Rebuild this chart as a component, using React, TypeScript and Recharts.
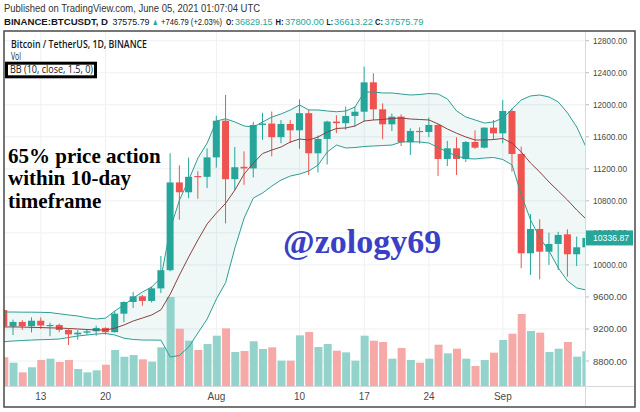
import React from 'react';
import { ComposedChart, Bar, Line, Area, XAxis, YAxis, CartesianGrid, Cell } from 'recharts';

const dates = [
  '2020-07-09','2020-07-10','2020-07-11','2020-07-12','2020-07-13','2020-07-14','2020-07-15','2020-07-16',
  '2020-07-17','2020-07-18','2020-07-19','2020-07-20','2020-07-21','2020-07-22','2020-07-23','2020-07-24',
  '2020-07-25','2020-07-26','2020-07-27','2020-07-28','2020-07-29','2020-07-30','2020-07-31','2020-08-01',
  '2020-08-02','2020-08-03','2020-08-04','2020-08-05','2020-08-06','2020-08-07','2020-08-08','2020-08-09',
  '2020-08-10','2020-08-11','2020-08-12','2020-08-13','2020-08-14','2020-08-15','2020-08-16','2020-08-17',
  '2020-08-18','2020-08-19','2020-08-20','2020-08-21','2020-08-22','2020-08-23','2020-08-24','2020-08-25',
  '2020-08-26','2020-08-27','2020-08-28','2020-08-29','2020-08-30','2020-08-31','2020-09-01','2020-09-02',
  '2020-09-03','2020-09-04','2020-09-05','2020-09-06','2020-09-07','2020-09-08','2020-09-09','2020-09-10',
];

const open = [
  9436, 9232, 9288, 9234, 9303, 9243, 9250, 9188, 9133, 9154, 9171, 9213, 9160, 9391, 9537, 9608,
  9550, 9707, 9934, 11030, 10907, 11110, 11100, 11343, 11801, 11071, 11225, 11205, 11748, 11765, 11595, 11760,
  11681, 11895, 11394, 11573, 11790, 11770, 11860, 11913, 12280, 11943, 11756, 11851, 11531, 11673, 11660, 11748,
  11323, 11456, 11323, 11535, 11464, 11714, 11643, 11922, 11385, 10145, 10449, 10165, 10262, 10382, 10133, 10220,
];
const high = [
  9450, 9317, 9310, 9345, 9343, 9279, 9268, 9203, 9186, 9200, 9241, 9221, 9424, 9545, 9664, 9625,
  9730, 10111, 11394, 11244, 11340, 11170, 11455, 11862, 12123, 11473, 11418, 11786, 11900, 11915, 11808, 11808,
  12067, 11940, 11617, 11800, 11870, 11976, 11976, 12475, 12393, 12018, 11890, 11880, 11706, 11718, 11840, 11756,
  11548, 11594, 11547, 11680, 11718, 11809, 12060, 11955, 11477, 10636, 10570, 10402, 10414, 10445, 10354, 10500,
];
const low = [
  9160, 9125, 9189, 9157, 9200, 9110, 9160, 9000, 9066, 9128, 9115, 9127, 9156, 9283, 9463, 9490,
  9531, 9649, 9920, 10565, 10833, 10827, 10960, 11215, 10518, 10936, 11000, 11093, 11562, 11356, 11520, 11522,
  11450, 11123, 11154, 11254, 11645, 11690, 11726, 11789, 11809, 11569, 11672, 11485, 11373, 11514, 11595, 11110,
  11235, 11123, 11286, 11450, 11455, 11560, 11519, 11164, 9958, 9875, 9820, 10000, 9937, 9853, 9987, 10200,
];
const close = [
  9232, 9288, 9234, 9303, 9243, 9250, 9188, 9133, 9154, 9171, 9213, 9160, 9391, 9537, 9608, 9550,
  9707, 9934, 11030, 10907, 11100, 11100, 11343, 11801, 11071, 11220, 11205, 11748, 11765, 11595, 11760, 11681,
  11895, 11394, 11573, 11790, 11770, 11860, 11913, 12280, 11943, 11756, 11851, 11531, 11673, 11660, 11748, 11323,
  11456, 11323, 11535, 11464, 11714, 11643, 11922, 11385, 10145, 10449, 10165, 10262, 10374, 10133, 10220, 10336.87,
];
const volume = [
  42140, 34300, 20090, 27440, 38220, 40180, 35280, 38220, 24990, 20090, 23030, 31360, 52920, 43120, 45570, 39200,
  35770, 56840, 130830, 84280, 66640, 52920, 61740, 73990, 84770, 49980, 51450, 65660, 54390, 56840, 37240, 37240,
  74480, 79380, 57330, 61740, 51940, 49490, 37240, 73990, 66640, 64680, 40180, 55860, 38220, 34300, 40180, 60760,
  48020, 54880, 40180, 29400, 38220, 49000, 67620, 76930, 105840, 80850, 78400, 49980, 54880, 64680, 43120, 50960,
];
const bbUpper = [
  9412, 9412, 9410, 9410, 9408, 9405, 9390, 9375, 9362, 9340, 9325, 9335, 9425, 9500, 9587, 9662,
  9725, 9840, 10450, 10810, 11060, 11335, 11522, 11797, 11825, 11785, 11735, 11722, 11785, 11847, 11885, 11935,
  11997, 11935, 11935, 11922, 11913, 11922, 11972, 12159, 12159, 12147, 12147, 12134, 12122, 12128, 12140, 12134,
  12072, 11922, 11847, 11810, 11772, 11785, 11835, 11947, 12060, 12110, 12122, 12097, 12035, 11897, 11722, 11472,
];
const bbBasis = [
  9225, 9225, 9224, 9220, 9218, 9214, 9212, 9206, 9200, 9193, 9188, 9187, 9210, 9250, 9300, 9337,
  9375, 9440, 9635, 9874, 10100, 10312, 10512, 10648, 10770, 10935, 11135, 11272, 11391, 11435, 11473, 11535,
  11572, 11560, 11597, 11660, 11704, 11710, 11735, 11797, 11810, 11816, 11829, 11835, 11822, 11816, 11810, 11760,
  11697, 11644, 11597, 11560, 11560, 11566, 11579, 11519, 11410, 11272, 11160, 11035, 10923, 10810, 10685, 10573,
];
const bbLower = [
  9041, 9050, 9056, 9062, 9066, 9069, 9075, 9094, 9112, 9125, 9137, 9144, 9125, 9085, 9069, 9062,
  9062, 9060, 8850, 8869, 8975, 9150, 9325, 9575, 9780, 10212, 10585, 10836, 10898, 10985, 11060, 11110,
  11135, 11173, 11247, 11410, 11497, 11460, 11466, 11479, 11485, 11491, 11497, 11535, 11539, 11535, 11522, 11466,
  11410, 11360, 11329, 11323, 11335, 11341, 11316, 11248, 10874, 10561, 10336, 10174, 9962, 9799, 9712, 9687,
];

const priceTicks = [8800, 9200, 9600, 10000, 10400, 10800, 11200, 11600, 12000, 12400, 12800];
const lastPrice = 10336.87;
const dateTickDates = ['2020-07-13', '2020-07-20', '2020-08-01', '2020-08-10', '2020-08-17', '2020-08-24', '2020-09-01'];
const dateTickLabels = ['13', '20', 'Aug', '10', '17', '24', 'Sep'];

const UP = '#26a69a';
const DOWN = '#ef5350';
const VOL_UP = '#93d3cc';
const VOL_DOWN = '#f7a9a7';
const AXIS_FONT = "'Liberation Sans', Arial, sans-serif";

const rows = dates.map((d, i) => ({
  i, date: d, o: open[i], h: high[i], l: low[i], c: close[i], vol: volume[i],
  bbU: bbUpper[i], bbM: bbBasis[i], bbL: bbLower[i],
}));
const dateTicks = dateTickDates.map((d) => dates.indexOf(d));
const xDomain: [number, number] = [0.01, 62.89];

// header line pieces: text, x start, width, colour, bold, font size
const headerPieces: [string, number, number, string, boolean, number][] = [
  ['BINANCE:BTCUSDT, D', 4, 104, '#131722', true, 9.5],
  ['37575.79', 112.5, 37, '#131722', false, 9.5],
  ['▲', 152, 6.5, UP, false, 9.5],
  ['+746.79 (+2.03%)', 161, 61, '#131722', false, 9],
  ['O:', 226, 7.5, '#131722', true, 9.5],
  ['36829.15', 235, 37.5, UP, false, 9.5],
  ['H:', 275.5, 8, '#131722', true, 9.5],
  ['37800.00', 285, 39, UP, false, 9.5],
  ['L:', 326.5, 6.5, '#131722', true, 9.5],
  ['36613.22', 334, 39, UP, false, 9.5],
  ['C:', 375, 8, '#131722', true, 9.5],
  ['37575.79', 384.5, 39, UP, false, 9.5],
];

const Candle = (props: any) => {
  const { x, y, width, height, payload } = props;
  if (!payload) return null;
  const top = Math.min(y, y + height);
  const h = Math.abs(height);
  const { o, c, h: hi, l: lo } = payload;
  const py = (v: number) => top + ((hi - v) / (hi - lo)) * h;
  const color = c >= o ? UP : DOWN;
  const cx = x + width / 2;
  const bTop = py(Math.max(o, c));
  const bBot = py(Math.min(o, c));
  return (
    <g>
      <line x1={cx} x2={cx} y1={top} y2={top + h} stroke={color} strokeWidth={1} />
      <rect x={x} y={bTop} width={width} height={Math.max(1.2, bBot - bTop)} fill={color} />
    </g>
  );
};

const PriceTick = (props: any) => {
  const { x, y, payload } = props;
  const v = payload.value;
  if (Math.abs(v - lastPrice) < 0.001) {
    return (
      <g>
        <rect x={x - 7} y={y - 7.5} width={47} height={15} fill={UP} />
        <text x={x} y={y + 3.5} fill="#ffffff" fontSize={9.5} fontFamily={AXIS_FONT} textLength={36} lengthAdjust="spacingAndGlyphs">
          {v.toFixed(2)}
        </text>
      </g>
    );
  }
  return (
    <text x={x} y={y + 3.5} fill="#4a4a4a" fontSize={9.5} fontFamily={AXIS_FONT} textLength={34} lengthAdjust="spacingAndGlyphs">
      {v.toFixed(2)}
    </text>
  );
};

const DateTick = (props: any) => {
  const { x, y, payload } = props;
  const idx = dateTicks.indexOf(payload.value);
  return (
    <text x={x} y={y + 14} textAnchor="middle" fill="#4a4a4a" fontSize={10} fontFamily={AXIS_FONT}>
      {idx >= 0 ? dateTickLabels[idx] : ''}
    </text>
  );
};

const Overlay = () => (
  <svg width={640} height={412} style={{ position: 'absolute', left: 0, top: 0, pointerEvents: 'none' }}>
    <text x={4} y={12} fontSize={10} fill="#333" fontFamily={AXIS_FONT} textLength={256} lengthAdjust="spacingAndGlyphs">
      Published on TradingView.com, June 05, 2021 01:07:04 UTC
    </text>
    {headerPieces.map(([t, x, w, col, bold, fs], k) => (
      <text key={k} x={x} y={25} fontSize={fs} fill={col} fontWeight={bold ? 700 : 400} fontFamily={AXIS_FONT}
        textLength={w} lengthAdjust="spacingAndGlyphs">
        {t}
      </text>
    ))}

    <line x1={4} x2={635} y1={386.5} y2={386.5} stroke="#d6d9de" strokeWidth={1} />
    <line x1={585.5} x2={585.5} y1={31} y2={407} stroke="#d6d9de" strokeWidth={1} />
    <rect x={4} y={31} width={631} height={376} fill="none" stroke="#4a4a4a" strokeWidth={1.5} />

    <text x={11} y={47.5} fontSize={10} fontWeight={600} fill="#131722" fontFamily="'Open Sans', sans-serif" textLength={136} lengthAdjust="spacingAndGlyphs">
      Bitcoin / TetherUS, 1D, BINANCE
    </text>
    <text x={11} y={59.5} fontSize={10} fill="#131722" fontFamily="'Open Sans', sans-serif" textLength={10} lengthAdjust="spacingAndGlyphs">
      Vol
    </text>
    <rect x={6.5} y={63.2} width={89} height={13.6} fill="#ffffff" stroke="#000" strokeWidth={3} />
    <text x={10} y={73} fontSize={10} fill="#131722" fontFamily="'Open Sans', sans-serif" textLength={83} lengthAdjust="spacingAndGlyphs">
      BB (10, close, 1.5, 0)
    </text>

    <g fontFamily="'Liberation Serif', 'Times New Roman', serif" fontWeight={700} fontSize={21} fill="#000">
      <text x={8} y={162.5}>65% price action</text>
      <text x={8} y={185}>within 10-day</text>
      <text x={8} y={207.5}>timeframe</text>
    </g>
    <text x={283} y={253} fontFamily="'Liberation Serif', 'Times New Roman', serif" fontWeight={700} fontSize={34} fill="#3a3fc6">
      @zology69
    </text>
  </svg>
);

export default function App() {
  return (
    <div style={{ position: 'absolute', left: 0, top: 0, width: 640, height: 412, background: '#ffffff' }}>
      <ComposedChart width={640} height={412} data={rows} margin={{ top: 31, right: 0, bottom: 0, left: 4 }}>
        <CartesianGrid xAxisId="x" yAxisId="p" stroke="#eef0f3" horizontalValues={priceTicks} verticalValues={dateTicks} />
        <XAxis xAxisId="x" type="number" dataKey="i" domain={xDomain} allowDataOverflow ticks={dateTicks} interval={0}
          height={26} axisLine={false} tickLine={false} tickSize={0} tickMargin={0} tick={DateTick} />
        <XAxis xAxisId="xv" type="number" dataKey="i" domain={xDomain} allowDataOverflow hide />
        <XAxis xAxisId="xc" type="number" dataKey="i" domain={xDomain} allowDataOverflow hide />
        <YAxis yAxisId="p" orientation="right" domain={[8488, 12921]} allowDataOverflow ticks={[...priceTicks, lastPrice]}
          interval={0} width={55} axisLine={false} tickLine={{ stroke: '#b8bbc2' }} tickSize={4} tickMargin={4} tick={PriceTick} />
        <YAxis yAxisId="v" domain={[0, 522000]} allowDataOverflow hide />
        <Bar xAxisId="xv" yAxisId="v" dataKey="vol" barSize={8} isAnimationActive={false}>
          {rows.map((r) => (
            <Cell key={r.date} fill={r.c >= r.o ? VOL_UP : VOL_DOWN} />
          ))}
        </Bar>
        <Area xAxisId="x" yAxisId="p" dataKey={(d: any) => [d.bbL, d.bbU]} type="linear" stroke="none"
          fill="#198787" fillOpacity={0.07} dot={false} activeDot={false} isAnimationActive={false} />
        <Bar xAxisId="xc" yAxisId="p" dataKey={(d: any) => [d.l, d.h]} barSize={7} shape={Candle} isAnimationActive={false} />
        <Line xAxisId="x" yAxisId="p" dataKey="bbU" type="linear" stroke="#2e9e94" strokeWidth={1} dot={false} activeDot={false} isAnimationActive={false} />
        <Line xAxisId="x" yAxisId="p" dataKey="bbM" type="linear" stroke="#8e4040" strokeWidth={1} dot={false} activeDot={false} isAnimationActive={false} />
        <Line xAxisId="x" yAxisId="p" dataKey="bbL" type="linear" stroke="#2e9e94" strokeWidth={1} dot={false} activeDot={false} isAnimationActive={false} />
      </ComposedChart>
      <Overlay />
    </div>
  );
}
